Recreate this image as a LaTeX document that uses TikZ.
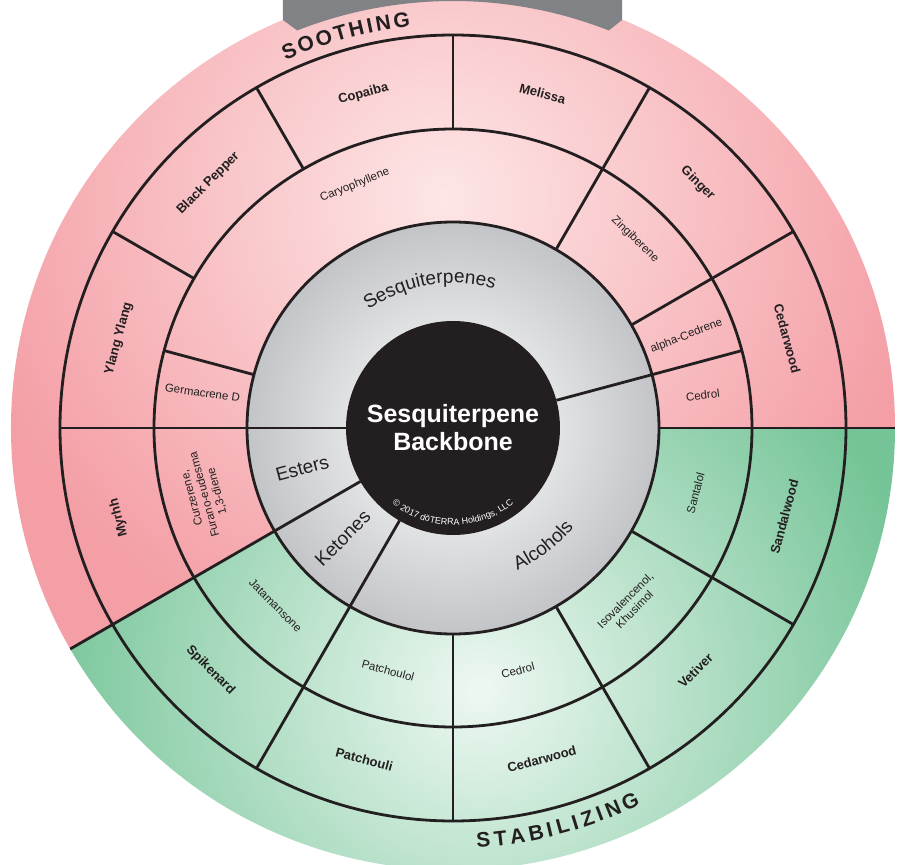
\documentclass[tikz,border=0pt]{standalone}
\usepackage{fontspec}
\setmainfont{Liberation Sans}
\usepackage{tikz}
\usetikzlibrary{decorations.text}

\definecolor{ink}{HTML}{231F20}
\definecolor{pinkin}{HTML}{FDE6E6}
\definecolor{pinkout}{HTML}{F49FA6}
\definecolor{greenin}{HTML}{EEF8F2}
\definecolor{greenout}{HTML}{74C497}
\definecolor{grayin}{HTML}{E1E2E4}
\definecolor{grayout}{HTML}{C3C4C7}
\definecolor{tabgray}{HTML}{808285}

\pgfdeclareradialshading{grayring}{\pgfpointorigin}{color(0bp)=(grayin); color(13bp)=(grayin); color(25bp)=(grayout); color(50bp)=(grayout)}
\pgfdeclareradialshading{pinkwash}{\pgfpointorigin}{color(0bp)=(pinkin); color(12.5bp)=(pinkout); color(50bp)=(pinkout)}
\pgfdeclareradialshading{greenwash}{\pgfpointorigin}{color(0bp)=(greenin); color(12.5bp)=(greenout); color(50bp)=(greenout)}

\begin{document}
\begin{tikzpicture}[x=1pt,y=1pt,
		wheel/.style={draw=ink, line width=2.8pt},
		oil/.style={text=ink, font=\fontsize{13}{15}\selectfont\bfseries},
		compound/.style={text=ink, align=center, font=\fontsize{11.5}{13}\selectfont},
		family/.style={text=ink, font=\fontsize{19}{22}\selectfont},
		banner/.style={text=ink, font=\fontsize{21}{23}\selectfont\bfseries}]
		\def\rA{107}
		\def\rB{206}
		\def\rC{299}
		\def\rD{393}
		\def\rE{442}
		\useasboundingbox (-453,-437) rectangle (450,428);
		
		\begin{scope}
			\clip (0,0) -- (0:\rE) arc (0:210:\rE) -- cycle;
			\shade[shading=pinkwash] (-10,230) circle (960);
		\end{scope}
		\begin{scope}
			\clip (0,0) -- (210:\rE) arc (210:360:\rE) -- cycle;
			\shade[shading=greenwash] (27,-262) circle (900);
		\end{scope}
		\fill[tabgray] (-170,428) -- (-170,408) -- (111.4:427) arc (111.4:68.6:427) -- (169,408) -- (169,428) -- cycle;
		\shade[shading=grayring] (0,0) circle (\rB);
		\fill[ink] (0,0) circle (\rA);
		
		\draw[wheel] (0,0) circle (\rB) (0,0) circle (\rC) (0,0) circle (\rD);
		\foreach \a/\from/\to in {0/\rB/\rE, 15/\rA/\rC, 30/\rB/\rD, 60/\rB/\rD, 90/\rC/\rD,
			120/\rC/\rD, 150/\rC/\rD, 165/\rB/\rC, 180/\rA/\rD, 210/\rA/\rE,
			240/\rA/\rD, 270/\rB/\rD, 300/\rB/\rD, 330/\rB/\rD}{
			\draw[wheel] (\a:\from) -- (\a:\to);
		}
		
		\node[text=white, align=center, font=\fontsize{25}{28}\selectfont\bfseries] (core) at (0,0) {Sesquiterpene\\Backbone};
		\path[decorate, decoration={text along path, text align=center, text color=white,
			text={|\fontsize{9}{10}\selectfont|© 2017 dōTERRA Holdings, LLC}}] (220:97) arc (220:320:97);
		
		\path[decorate, decoration={text along path, text align=center, text color=ink,
			text={|\fontsize{19}{22}\selectfont|Sesquiterpenes}}] (184:145) arc (184:15:145);
		\path[decorate, decoration={text along path, text align=center, text color=ink,
			text={|\fontsize{19}{22}\selectfont|Alcohols}}] (240:156) arc (240:375:156);
		\node[family, rotate=15] (grp-esters) at (195:156) {Esters};
		\node[family, rotate=45] (grp-ketones) at (225:156) {Ketones};
		
		\foreach \a/\rad/\rot/\txt [count=\i] in {7.5/252/7.5/Cedrol, 21.5/251/21.5/alpha-Cedrene,
			46/262/-44/Zingiberene, 112/262/22/Caryophyllene, 172/253/-8/Germacrene D,
			195/257/105/{Curzerene,\\Furano-eudesma\\1,3-diene}, 225/251/-45/Jatamansone,
			255/251/-15/Patchoulol, 285/251/15/Cedrol, 315/250/45/{Isovalencenol,\\Khusimol},
			345/251/75/Santalol}{
			\node[compound, rotate=\rot] (cmp-\i) at (\a:\rad) {\txt};
		}
		
		\foreach \a/\txt [count=\i] in {15/Cedarwood, 45/Ginger, 75/Melissa, 105/Copaiba,
			135/Black Pepper, 165/Ylang Ylang, 195/Myrhh}{
			\node[oil, rotate=\a-90] (oil-\i) at (\a:346) {\txt};
		}
		\foreach \a/\txt [count=\i from 8] in {225/Spikenard, 255/Patchouli, 285/Cedarwood,
			315/Vetiver, 345/Sandalwood}{
			\node[oil, rotate=\a+90] (oil-\i) at (\a:343) {\txt};
		}
		
		\foreach \a/\ch [count=\i] in {113.5/S, 111/O, 108.3/O, 105.9/T, 103.6/H, 101.7/I, 99.8/N, 97.2/G}{
			\node[banner, rotate=\a-90] (soothe-\i) at (\a:411) {\ch};
		}
		\foreach \a/\ch [count=\i] in {274.2/S, 276.6/T, 279/A, 281.6/B, 283.5/I, 285.4/L,
			287.2/I, 289/Z, 290.8/I, 292.8/N, 295.4/G}{
			\node[banner, rotate=\a+90] (stab-\i) at (\a:413) {\ch};
		}
\end{tikzpicture}
\end{document}
